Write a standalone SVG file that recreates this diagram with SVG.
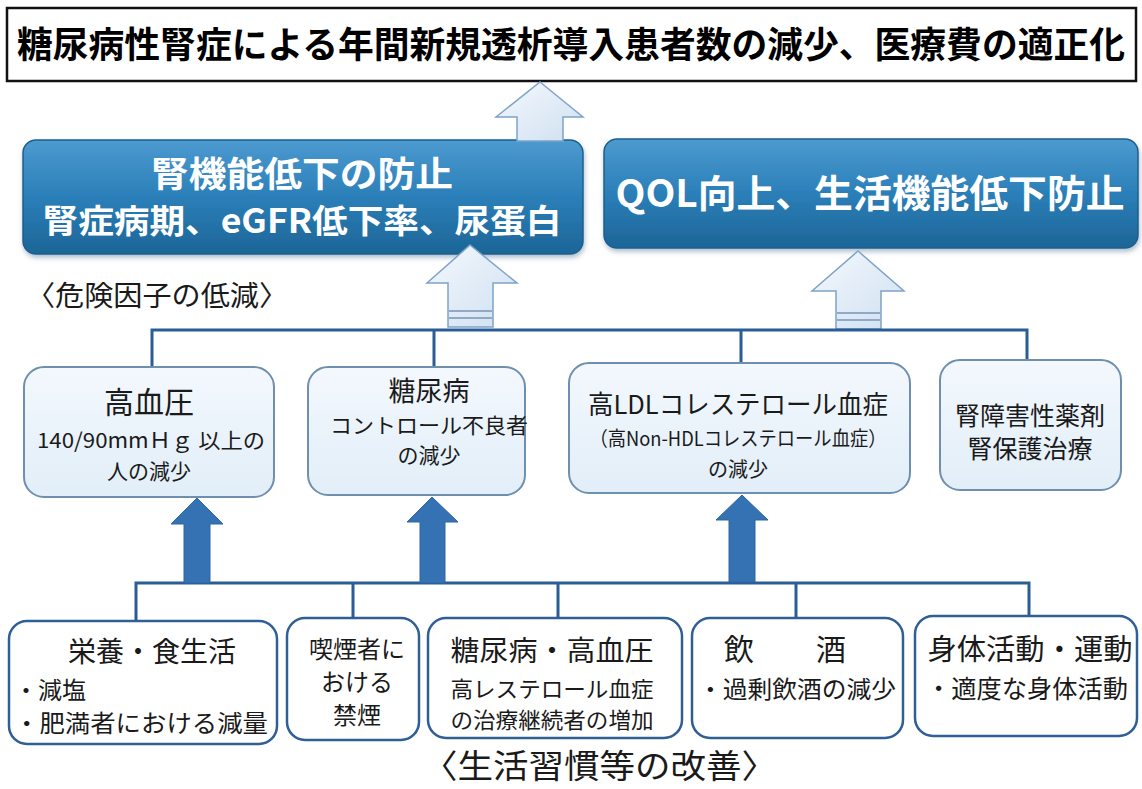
<svg xmlns="http://www.w3.org/2000/svg" width="1142" height="789" viewBox="0 0 1142 789">
<defs>
<linearGradient id="gBlue" x1="0" y1="0" x2="0" y2="1">
<stop offset="0" stop-color="#4c9ad0"/>
<stop offset="0.5" stop-color="#2b7fb8"/>
<stop offset="1" stop-color="#1c6597"/>
</linearGradient>
<linearGradient id="gLight" x1="0" y1="0" x2="0" y2="1">
<stop offset="0" stop-color="#f3f8fd"/>
<stop offset="1" stop-color="#e2eef8"/>
</linearGradient>
<linearGradient id="gHollow" x1="0" y1="0" x2="1" y2="1">
<stop offset="0" stop-color="#f4f8fd"/>
<stop offset="1" stop-color="#cfe0f1"/>
</linearGradient>
<filter id="sh" x="-5%" y="-10%" width="110%" height="130%">
<feDropShadow dx="1" dy="3" stdDeviation="2.5" flood-color="#6a8aa6" flood-opacity="0.55"/>
</filter>
</defs>
<style>
text{font-family:"Noto Sans CJK JP","Noto Sans",sans-serif;fill:#1a1a1a;}
.title{font-size:36px;font-weight:bold;fill:#000;}
.wb{font-weight:bold;fill:#ffffff;}
.blue{fill:url(#gBlue);stroke:#1d5f8e;stroke-width:1.5;}
.light{fill:url(#gLight);stroke:#6f8fae;stroke-width:2;}
.bot{fill:#ffffff;stroke:#2f5f95;stroke-width:2.5;}
.conn{fill:none;stroke:#2a5d96;stroke-width:3;}
.hollow{fill:url(#gHollow);stroke:#7fa3c8;stroke-width:1.5;}
.solid{fill:#3472b4;stroke:#2d66a3;stroke-width:1;}
.stripe{stroke:#8fa9c6;stroke-width:2;}
.c{text-anchor:middle;}
</style>

<g id="title">
<rect x="7" y="8" width="1129" height="73" fill="#ffffff" stroke="#111" stroke-width="2.5"/>
<text class="title" x="571" y="58" text-anchor="middle" textLength="1108" lengthAdjust="spacingAndGlyphs">糖尿病性腎症による年間新規透析導入患者数の減少、医療費の適正化</text>
</g>

<g id="goal-kidney">
<rect class="blue" x="23" y="140" width="560" height="114" rx="13" filter="url(#sh)"/>
<text class="wb c" x="302" y="187" font-size="35" textLength="302" lengthAdjust="spacingAndGlyphs">腎機能低下の防止</text>
<text class="wb c" x="302" y="233" font-size="33" textLength="519" lengthAdjust="spacingAndGlyphs">腎症病期、eGFR低下率、尿蛋白</text>
</g>

<g id="goal-qol">
<rect class="blue" x="604" y="139" width="534" height="109" rx="13" filter="url(#sh)"/>
<text class="wb c" x="870" y="207" font-size="38" textLength="509" lengthAdjust="spacingAndGlyphs">QOL向上、生活機能低下防止</text>
</g>

<text x="26" y="306" font-size="28" textLength="262" lengthAdjust="spacingAndGlyphs">〈危険因子の低減〉</text>

<g id="connectors">
<polygon class="hollow" points="540,82 583,117 563,117 563,141 517,141 517,117 496,117"/>
<polygon class="hollow" points="470,245 517,283 493,283 493,327 448,327 448,283 427,283"/>
<line class="stripe" x1="449" y1="311" x2="492" y2="311"/>
<line class="stripe" x1="449" y1="318" x2="492" y2="318"/>
<polygon class="hollow" points="858,251 904,291 881,291 881,329 836,329 836,291 812,291"/>
<line class="stripe" x1="837" y1="313" x2="880" y2="313"/>
<line class="stripe" x1="837" y1="320" x2="880" y2="320"/>
<path class="conn" d="M152,367 V330 H1027 V360 M434,330 V367 M741,330 V363"/>
<path class="conn" d="M136,622 V583 H1029 V615 M353,583 V618 M558,583 V618 M796,583 V618"/>
<polygon class="solid" points="197,498 223,524 210,524 210,583 184,583 184,524 171,524"/>
<polygon class="solid" points="432,497 458,522 445,522 445,583 420,583 420,522 407,522"/>
<polygon class="solid" points="742,495 768,520 755,520 755,582 729,582 729,520 716,520"/>
</g>

<g id="risk-bp">
<rect class="light" x="24" y="367" width="250" height="130" rx="20"/>
<text class="c" x="149" y="413" font-size="30">高血圧</text>
<text x="37" y="448" font-size="21" textLength="228" lengthAdjust="spacingAndGlyphs">140/90mmＨｇ 以上の</text>
<text class="c" x="149" y="479" font-size="21">人の減少</text>
</g>

<g id="risk-dm">
<rect class="light" x="308" y="367" width="217" height="128" rx="20"/>
<text class="c" x="429" y="401" font-size="27">糖尿病</text>
<text class="c" x="429" y="433" font-size="21" textLength="198" lengthAdjust="spacingAndGlyphs">コントロール不良者</text>
<text class="c" x="429" y="463" font-size="21">の減少</text>
</g>

<g id="risk-ldl">
<rect class="light" x="569" y="363" width="341" height="130" rx="20"/>
<text class="c" x="738" y="414" font-size="26" textLength="300" lengthAdjust="spacingAndGlyphs">高LDLコレステロール血症</text>
<text class="c" x="738" y="446" font-size="20" textLength="297" lengthAdjust="spacingAndGlyphs">（高Non-HDLコレステロール血症）</text>
<text class="c" x="738" y="477" font-size="20">の減少</text>
</g>

<g id="risk-drug">
<rect class="light" x="940" y="360" width="181" height="130" rx="20"/>
<text class="c" x="1030" y="425" font-size="25">腎障害性薬剤</text>
<text class="c" x="1030" y="458" font-size="25">腎保護治療</text>
</g>

<g id="life-diet">
<rect class="bot" x="9" y="621" width="268" height="123" rx="18"/>
<text class="c" x="152" y="662" font-size="28">栄養・食生活</text>
<text x="14" y="699" font-size="24">・減塩</text>
<text x="14" y="732" font-size="24" textLength="254" lengthAdjust="spacingAndGlyphs">・肥満者における減量</text>
</g>

<g id="life-smoke">
<rect class="bot" x="287" y="618" width="132" height="122" rx="18"/>
<text class="c" x="357" y="658" font-size="24">喫煙者に</text>
<text class="c" x="357" y="691" font-size="24">おける</text>
<text class="c" x="357" y="724" font-size="24">禁煙</text>
</g>

<g id="life-treat">
<rect class="bot" x="428" y="618" width="254" height="120" rx="18"/>
<text class="c" x="552" y="661" font-size="28" textLength="203" lengthAdjust="spacingAndGlyphs">糖尿病・高血圧</text>
<text class="c" x="552" y="697" font-size="22" textLength="203" lengthAdjust="spacingAndGlyphs">高レステロール血症</text>
<text class="c" x="552" y="728" font-size="22" textLength="203" lengthAdjust="spacingAndGlyphs">の治療継続者の増加</text>
</g>

<g id="life-alcohol">
<rect class="bot" x="692" y="618" width="211" height="120" rx="18"/>
<text x="724" y="660" font-size="30">飲</text>
<text x="816" y="660" font-size="30">酒</text>
<text x="698" y="698" font-size="24" textLength="198" lengthAdjust="spacingAndGlyphs">・過剰飲酒の減少</text>
</g>

<g id="life-exercise">
<rect class="bot" x="915" y="616" width="222" height="120" rx="18"/>
<text class="c" x="1030" y="660" font-size="29" textLength="205" lengthAdjust="spacingAndGlyphs">身体活動・運動</text>
<text x="926" y="698" font-size="25" textLength="202" lengthAdjust="spacingAndGlyphs">・適度な身体活動</text>
</g>

<text x="422" y="778" font-size="33" textLength="355" lengthAdjust="spacingAndGlyphs">〈生活習慣等の改善〉</text>
</svg>
